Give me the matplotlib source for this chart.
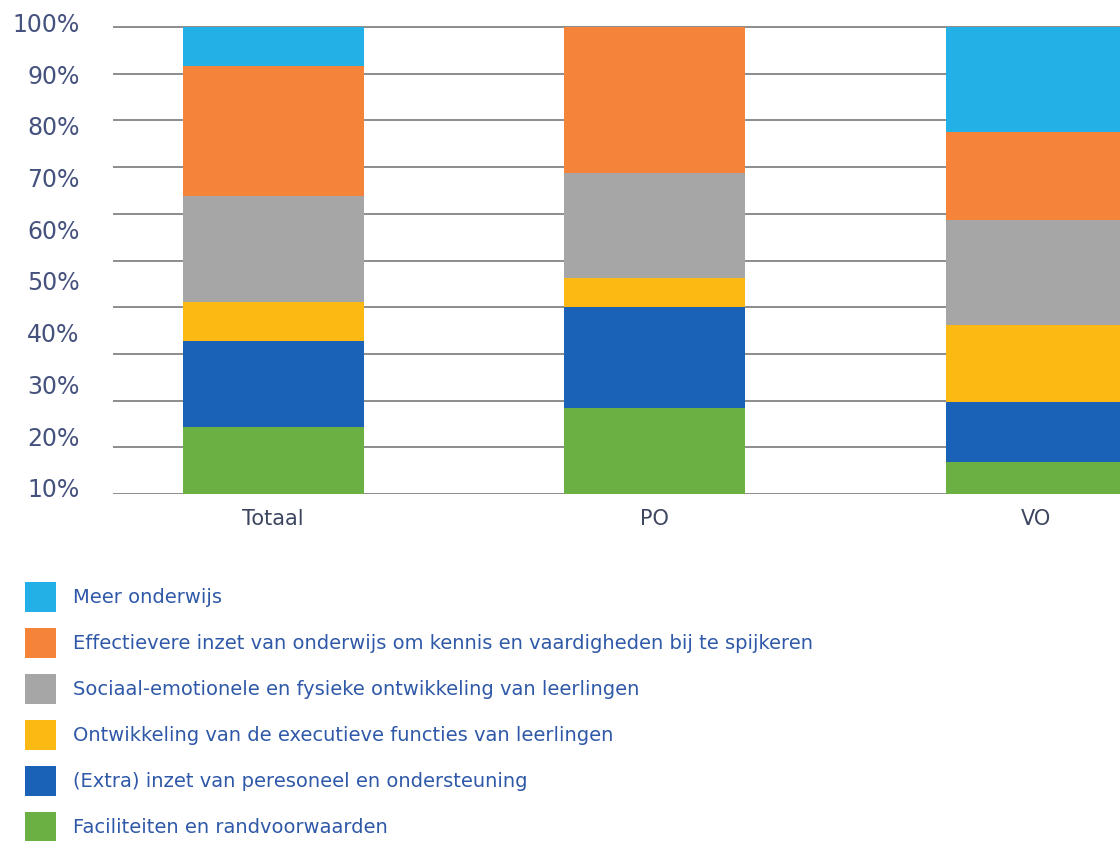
import numpy as np
import matplotlib
matplotlib.use("Agg")
import matplotlib.pyplot as plt
from matplotlib.patches import Patch

# categories and shares (%), bottom -> top stacking order
groepen = ["Totaal", "PO", "VO"]
reeksen = [
    "Faciliteiten en randvoorwaarden",
    "(Extra) inzet van peresoneel en ondersteuning",
    "Ontwikkeling van de executieve functies van leerlingen",
    "Sociaal-emotionele en fysieke ontwikkeling van leerlingen",
    "Effectievere inzet van onderwijs om kennis en vaardigheden bij te spijkeren",
    "Meer onderwijs",
]
faciliteiten = [14.3, 18.4, 6.9]
extra_inzet = [18.5, 21.6, 12.8]
executieve = [8.3, 6.3, 16.5]
sociaal = [22.7, 22.4, 22.5]
effectiever = [27.8, 31.3, 18.8]
meer_onderwijs = [8.4, 0.0, 22.5]

kleuren = ["#6ab042", "#1a62b8", "#fdb913", "#a6a6a6", "#f5843a", "#22b0e6"]

ytick_labels = ["10%", "20%", "30%", "40%", "50%", "60%", "70%", "80%", "90%", "100%"]
grid_waarden = np.arange(0, 101, 10)

plt.rcParams["font.family"] = ["DejaVu Sans"]

# 0 at y=494 px, 100 at y=27 px; a little headroom so the top label fits
px_per_unit = (494 - 27) / 100
ytop = 101.5
fig = plt.figure(figsize=(11.2, 8.41), dpi=100)
ax = fig.add_axes([113 / 1120, 1 - 494 / 841, 1 - 113 / 1120, ytop * px_per_unit / 841])

series = [faciliteiten, extra_inzet, executieve, sociaal, effectiever, meer_onderwijs]
x = np.arange(len(groepen))
bottom = np.zeros(len(groepen))
for vals, kleur in zip(series, kleuren):
    vals = np.asarray(vals, dtype=float)
    ax.bar(x, vals, bottom=bottom, width=0.474, color=kleur, zorder=3, linewidth=0)
    bottom += vals

ax.set_xlim(-0.42, 2.22)
ax.set_ylim(0, ytop)

# horizontal grid every 10; labels spread evenly over the height as in the original
ax.hlines(grid_waarden, -0.42, 2.22, colors="#8c8c8c", linewidth=1.4, zorder=1)
ax.set_yticks(np.linspace(1.3, 101, len(ytick_labels)))
ax.set_yticklabels(ytick_labels, fontsize=17, color="#46527e")
ax.tick_params(axis="y", length=0, pad=24)

ax.set_xticks(x)
ax.set_xticklabels(groepen, fontsize=15, color="#3d4660")
ax.tick_params(axis="x", length=0, pad=11)

for s in ax.spines.values():
    s.set_visible(False)

handles = [Patch(facecolor=k, edgecolor="none") for k in kleuren[::-1]]
fig.legend(handles, reeksen[::-1], loc="upper left",
           bbox_to_anchor=(25 / 1120, 1 - 582 / 841), frameon=False,
           fontsize=14, labelcolor="#2f59a8", handlelength=1.6, handleheight=2.0,
           labelspacing=0.82, handletextpad=0.85, borderpad=0, borderaxespad=0)

fig.savefig("out.png", dpi=100)
